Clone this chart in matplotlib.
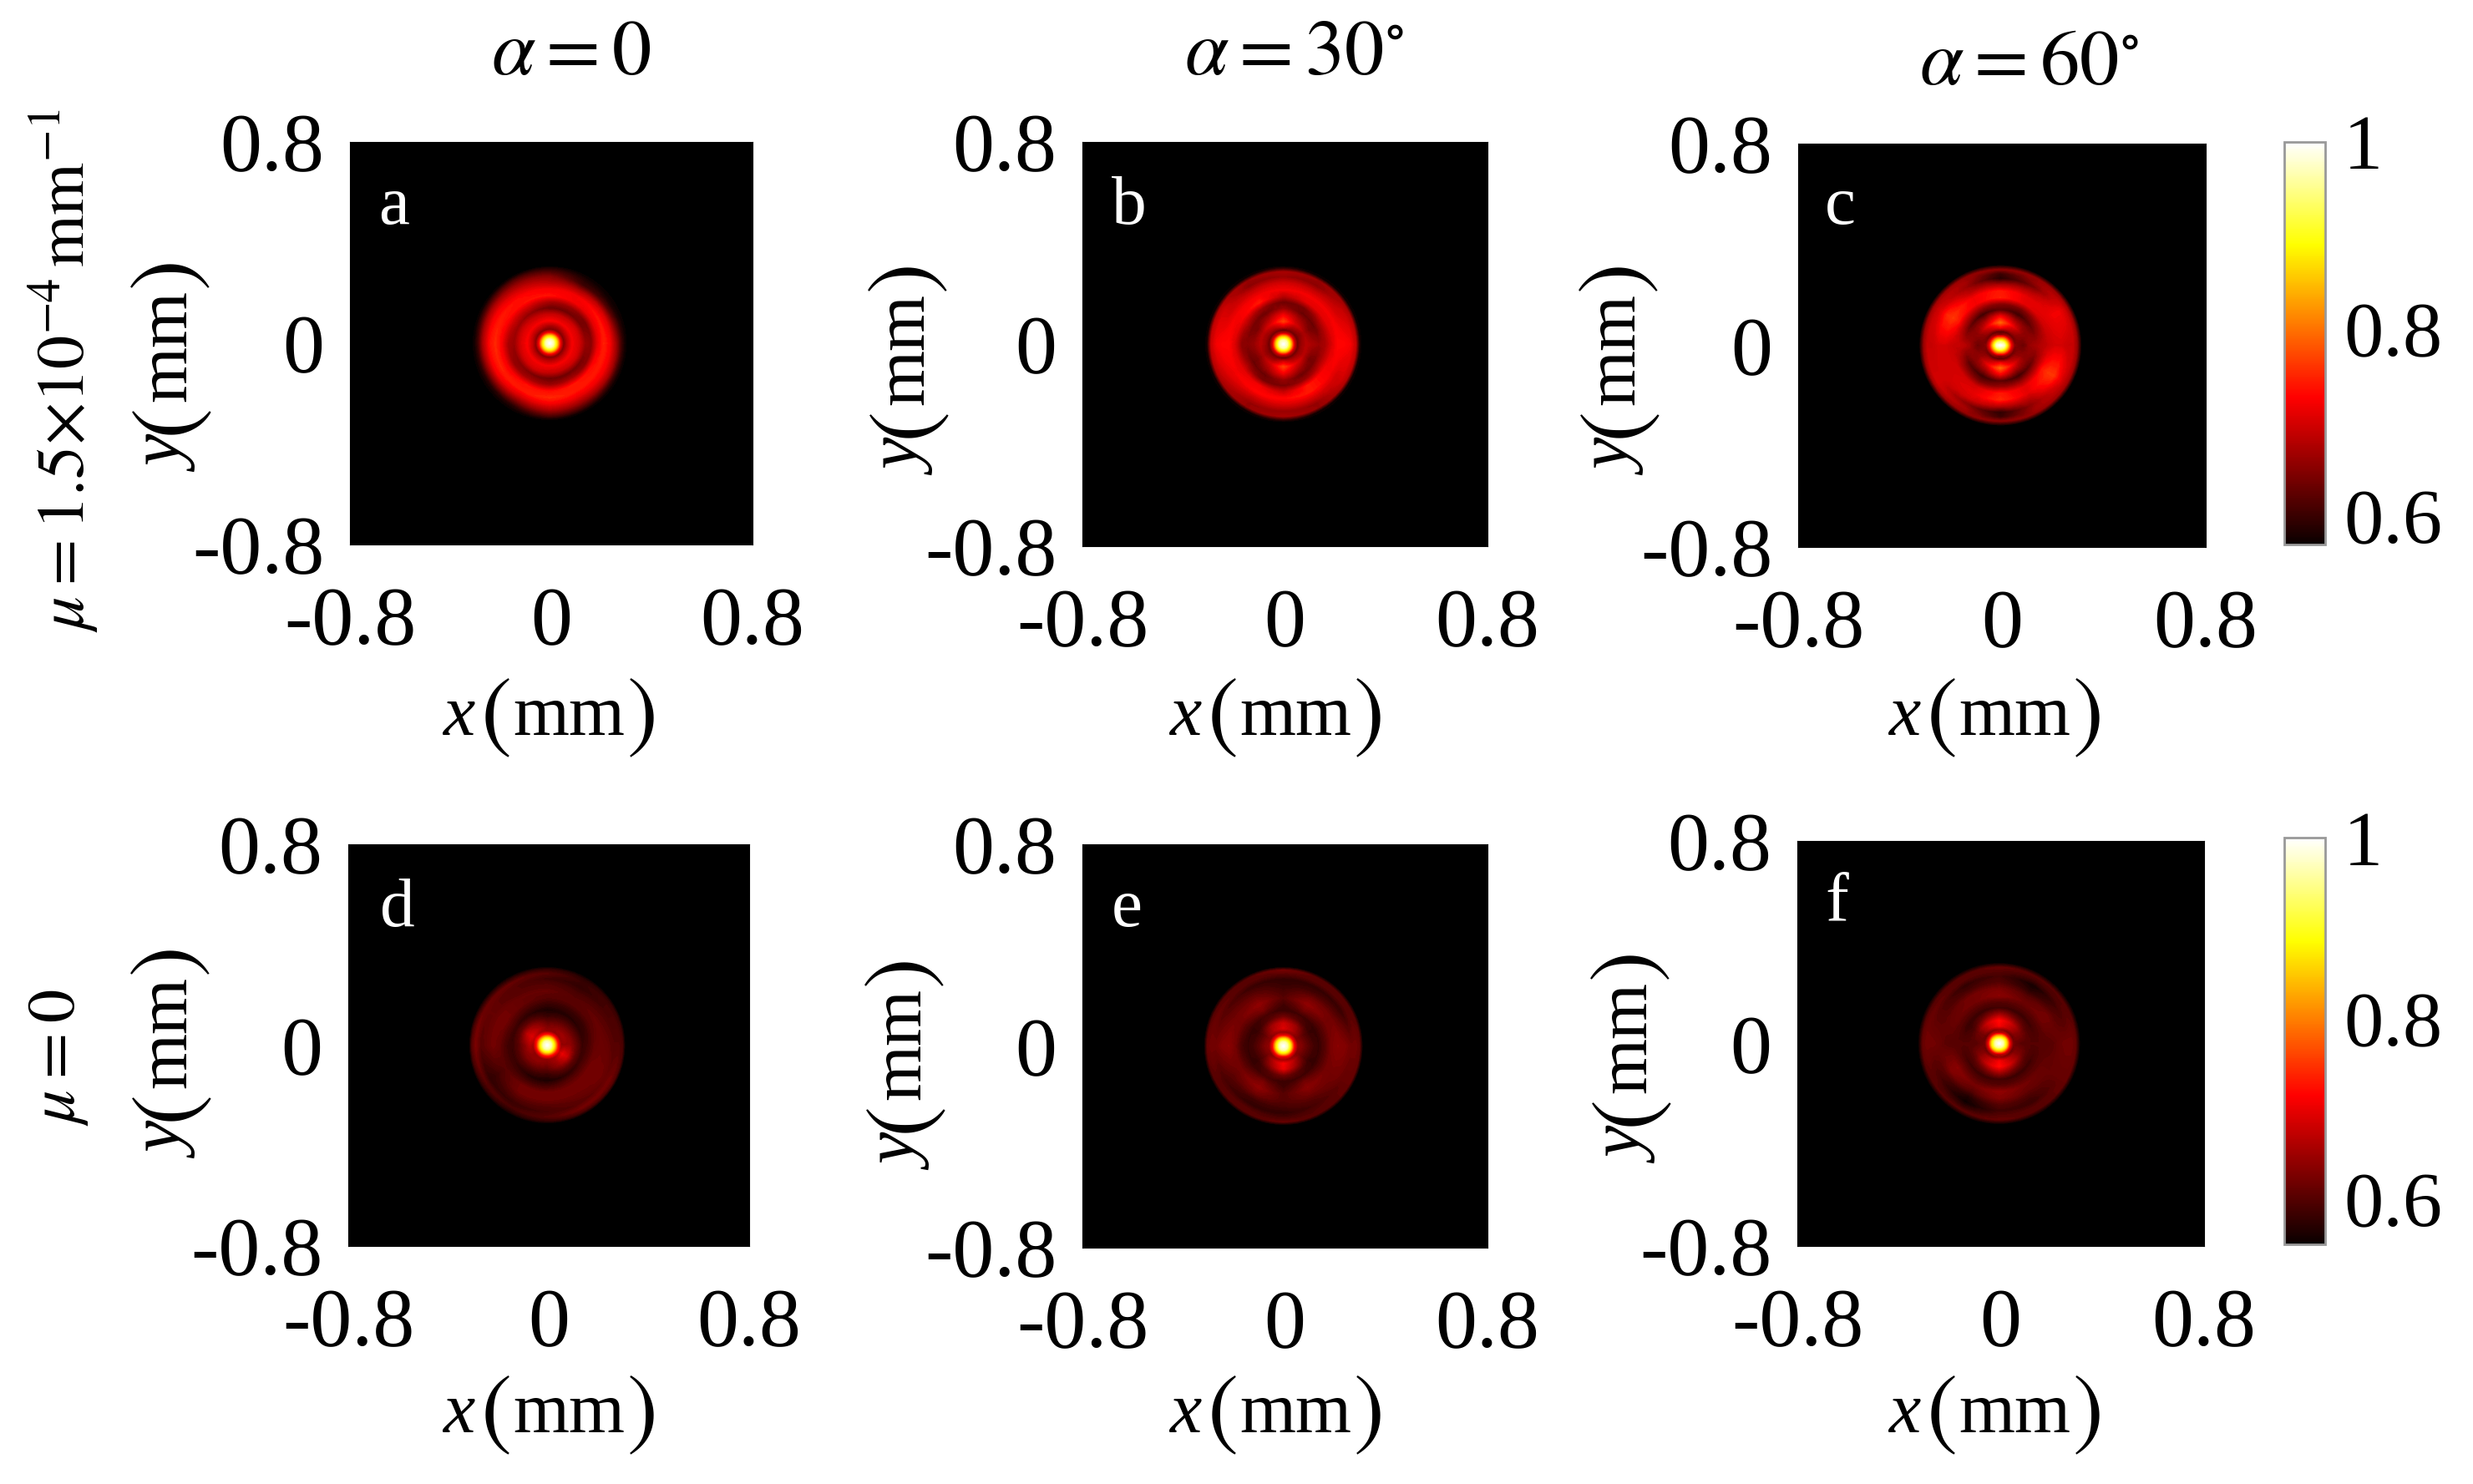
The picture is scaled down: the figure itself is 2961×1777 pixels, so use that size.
import numpy as np
import matplotlib
matplotlib.use("Agg")
import matplotlib.pyplot as plt
from matplotlib.cm import ScalarMappable
from matplotlib.colors import Normalize

W, H = 2961, 1777

# intensity: one row per direction (0, 30, ... 330 deg),
# one column per radius in RADII_MM
ANGLES_DEG = [0, 30, 60, 90, 120, 150, 180, 210, 240, 270, 300, 330]
RADII_MM = [0, .015, .03, .042, .055, .07, .09, .115, .14, .165, .19, .215, .24, .265, .285, .30]

PANEL_A = [
    [1, .96, .85, .72, .64, .68, .72, .70, .66, .65, .71, .745, .72, .66, .60, .57],
    [1, .96, .85, .72, .64, .68, .72, .70, .64, .64, .71, .735, .70, .62, .58, .57],
    [1, .96, .85, .72, .64, .67, .72, .69, .63, .66, .72, .72, .67, .60, .585, .57],
    [1, .96, .85, .72, .64, .67, .725, .69, .63, .67, .735, .72, .68, .65, .61, .58],
    [1, .96, .85, .72, .64, .68, .72, .69, .65, .69, .735, .73, .70, .66, .62, .575],
    [1, .96, .85, .72, .64, .68, .72, .70, .66, .69, .73, .74, .72, .67, .61, .57],
    [1, .96, .85, .72, .65, .69, .725, .70, .66, .67, .72, .75, .73, .67, .60, .57],
    [1, .96, .85, .72, .64, .68, .72, .70, .65, .66, .72, .745, .72, .65, .59, .57],
    [1, .96, .85, .72, .64, .68, .72, .70, .64, .67, .735, .74, .70, .64, .59, .57],
    [1, .96, .85, .72, .64, .68, .72, .69, .63, .66, .73, .75, .72, .67, .62, .575],
    [1, .96, .85, .72, .64, .68, .72, .69, .63, .67, .74, .74, .71, .66, .61, .57],
    [1, .96, .85, .72, .64, .68, .72, .70, .64, .65, .73, .74, .72, .67, .60, .57],
]
PANEL_B = [
    [1, .96, .84, .70, .63, .66, .68, .67, .66, .67, .70, .73, .73, .72, .69, .58],
    [1, .96, .84, .70, .63, .65, .67, .64, .63, .67, .71, .72, .70, .69, .67, .57],
    [1, .96, .84, .70, .63, .66, .70, .67, .63, .64, .71, .72, .69, .65, .66, .57],
    [1, .96, .84, .69, .62, .70, .765, .72, .66, .63, .68, .72, .70, .66, .67, .59],
    [1, .96, .84, .69, .63, .67, .71, .67, .63, .66, .74, .72, .69, .65, .66, .57],
    [1, .96, .84, .70, .63, .66, .68, .64, .64, .68, .72, .72, .70, .70, .68, .57],
    [1, .96, .84, .70, .63, .66, .68, .66, .65, .65, .70, .73, .73, .72, .69, .58],
    [1, .96, .84, .70, .63, .65, .67, .64, .63, .67, .71, .72, .71, .69, .67, .57],
    [1, .96, .84, .70, .63, .66, .70, .67, .63, .64, .72, .73, .69, .66, .66, .57],
    [1, .96, .84, .69, .62, .70, .765, .72, .66, .64, .69, .73, .70, .66, .67, .59],
    [1, .96, .84, .69, .63, .67, .71, .67, .63, .66, .74, .74, .70, .66, .66, .57],
    [1, .96, .84, .70, .63, .66, .68, .64, .64, .68, .72, .72, .70, .70, .68, .57],
]
PANEL_C = [
    [1, .97, .84, .72, .65, .64, .63, .66, .67, .68, .69, .70, .70, .69, .69, .66],
    [1, .95, .82, .70, .63, .65, .66, .65, .63, .66, .70, .71, .72, .72, .70, .67],
    [1, .93, .80, .67, .62, .68, .72, .66, .60, .64, .71, .71, .68, .64, .66, .66],
    [1, .93, .78, .64, .62, .72, .79, .72, .62, .65, .745, .74, .67, .585, .60, .65],
    [1, .93, .80, .67, .62, .68, .72, .66, .60, .66, .72, .72, .68, .66, .67, .66],
    [1, .95, .82, .70, .63, .65, .66, .65, .63, .68, .74, .76, .75, .71, .69, .67],
    [1, .97, .84, .72, .65, .64, .63, .66, .68, .69, .69, .70, .70, .69, .69, .66],
    [1, .95, .82, .70, .63, .65, .66, .65, .62, .66, .70, .70, .70, .70, .70, .67],
    [1, .93, .80, .67, .62, .68, .72, .66, .60, .64, .70, .71, .70, .65, .67, .66],
    [1, .93, .78, .64, .62, .72, .79, .72, .62, .66, .74, .75, .68, .59, .60, .65],
    [1, .93, .80, .67, .62, .68, .72, .66, .60, .66, .71, .71, .68, .66, .67, .66],
    [1, .95, .82, .70, .63, .65, .66, .65, .63, .68, .74, .76, .76, .72, .69, .67],
]
PANEL_D = [
    [1, .96, .85, .72, .64, .64, .64, .61, .58, .59, .61, .615, .61, .60, .60, .59],
    [1, .96, .85, .72, .64, .65, .63, .60, .57, .58, .60, .61, .60, .59, .59, .58],
    [1, .96, .85, .72, .64, .64, .62, .59, .565, .58, .60, .60, .59, .575, .58, .57],
    [1, .96, .85, .72, .64, .63, .61, .58, .56, .58, .60, .61, .60, .585, .60, .58],
    [1, .96, .85, .72, .65, .66, .64, .60, .57, .59, .61, .61, .60, .60, .61, .575],
    [1, .96, .85, .73, .67, .69, .67, .61, .58, .60, .62, .62, .61, .61, .615, .58],
    [1, .96, .85, .72, .65, .66, .63, .60, .58, .59, .61, .62, .61, .60, .625, .60],
    [1, .96, .85, .72, .64, .64, .63, .60, .58, .59, .60, .59, .58, .575, .60, .58],
    [1, .96, .85, .72, .64, .64, .62, .59, .565, .59, .62, .62, .60, .58, .59, .57],
    [1, .96, .85, .72, .64, .63, .61, .58, .56, .59, .62, .62, .60, .59, .60, .58],
    [1, .96, .85, .72, .65, .65, .64, .60, .57, .60, .62, .62, .61, .60, .62, .59],
    [1, .96, .85, .73, .67, .70, .68, .61, .58, .60, .62, .62, .62, .61, .62, .60],
]
PANEL_E = [
    [1, .96, .85, .71, .64, .63, .61, .59, .58, .60, .625, .635, .63, .62, .62, .61],
    [1, .96, .85, .71, .63, .62, .60, .58, .58, .60, .62, .62, .60, .58, .60, .60],
    [1, .96, .85, .71, .64, .66, .65, .60, .585, .62, .64, .62, .59, .575, .60, .60],
    [1, .96, .85, .69, .64, .69, .68, .62, .58, .585, .60, .59, .58, .575, .60, .62],
    [1, .96, .85, .71, .64, .66, .65, .60, .59, .625, .64, .62, .60, .58, .60, .60],
    [1, .96, .85, .71, .63, .62, .60, .58, .58, .60, .62, .62, .61, .60, .61, .60],
    [1, .96, .85, .71, .64, .63, .61, .59, .58, .59, .62, .635, .63, .62, .62, .61],
    [1, .96, .85, .71, .63, .62, .60, .58, .58, .60, .62, .61, .60, .59, .60, .60],
    [1, .96, .85, .71, .64, .67, .65, .60, .59, .625, .64, .62, .585, .575, .60, .60],
    [1, .96, .85, .69, .65, .71, .70, .62, .58, .585, .60, .60, .59, .575, .59, .61],
    [1, .96, .85, .71, .64, .67, .65, .60, .585, .62, .635, .62, .60, .59, .60, .60],
    [1, .96, .85, .71, .63, .62, .60, .58, .58, .60, .62, .62, .62, .61, .61, .61],
]
PANEL_F = [
    [1, .96, .85, .70, .62, .61, .60, .60, .60, .60, .60, .605, .615, .62, .62, .61],
    [1, .96, .85, .69, .61, .63, .63, .60, .585, .60, .62, .62, .60, .59, .60, .60],
    [1, .95, .83, .68, .62, .67, .68, .62, .58, .60, .615, .60, .57, .555, .585, .60],
    [1, .95, .82, .66, .64, .71, .72, .65, .585, .60, .635, .625, .60, .59, .60, .61],
    [1, .95, .83, .68, .62, .67, .68, .62, .58, .60, .62, .62, .59, .575, .60, .60],
    [1, .96, .85, .69, .61, .62, .62, .59, .58, .60, .615, .61, .60, .60, .61, .60],
    [1, .96, .85, .70, .62, .61, .60, .60, .60, .60, .60, .605, .615, .62, .62, .61],
    [1, .96, .85, .69, .61, .63, .63, .60, .585, .61, .635, .63, .60, .59, .60, .60],
    [1, .95, .83, .68, .62, .67, .68, .62, .58, .60, .62, .60, .565, .55, .575, .60],
    [1, .95, .82, .66, .64, .71, .72, .65, .585, .60, .64, .63, .60, .585, .60, .61],
    [1, .95, .83, .68, .62, .67, .68, .62, .58, .60, .62, .61, .59, .58, .60, .60],
    [1, .96, .85, .69, .61, .63, .63, .60, .585, .60, .61, .61, .61, .61, .61, .61],
]

DISK_RADIUS = [.292, .295, .305, .298, .30, .305]
TICK_VALUES = [-0.8, 0, 0.8]
TICK_LABELS = ["-0.8", "0", "0.8"]
CBAR_TICKS = [0.6, 0.8, 1]
CBAR_LABELS = ["0.6", "0.8", "1"]
LETTERS = ["a", "b", "c", "d", "e", "f"]
TITLES = [r"$\alpha=0$", r"$\alpha=30^{\circ}$", r"$\alpha=60^{\circ}$"]
ROW_LABELS = [r"$\mu=1.5{\times}10^{-4}\,\mathrm{mm}^{-1}$", r"$\mu=0$"]
VMIN_TOP, VMIN_BOTTOM, VMAX = 0.57, 0.55, 1.0

# axes boxes in pixels: left, right, top, bottom
BOXES = [
    (419, 901, 170, 652), (1296, 1781, 170, 654), (2153, 2641, 172, 655),
    (417, 897, 1011, 1492), (1296, 1781, 1011, 1494), (2152, 2639, 1007, 1492),
]
CBAR_BOXES = [(2735, 2784, 170, 652), (2735, 2784, 1003, 1490)]
XLABEL_XY = [(655, 880), (1525, 880), (2386, 880), (655, 1715), (1525, 1715), (2386, 1715)]
YLABEL_XY = [(222, 440), (1105, 444), (1956, 444), (222, 1262), (1101, 1276), (1970, 1268)]
TITLE_XY = [(684, 66), (1549, 66), (2429, 79)]
ROW_XY = [(76, 444), (70, 1266)]
LETTER_XY = [(472, 248), (1352, 248), (2203, 248), (476, 1089), (1349, 1089), (2199, 1083)]
# where the pieces of "x(mm)" sit along the label, pixels from its middle
PIECE_OFFSETS = [-106, -61, 26, 114]
PIECE_TEXTS = ["(", "mm", ")"]

plt.rcParams["font.family"] = ["Liberation Serif", "DejaVu Serif"]
plt.rcParams["mathtext.fontset"] = "stix"
FS = 72
UNIT_FS = 62
PAREN_FS = 80


def add_axes_px(fig, box):
    left, right, top, bottom = box
    return fig.add_axes([left / W, 1 - bottom / H, (right - left) / W, (bottom - top) / H])


def text_px(fig, xy, s, **kw):
    kw.setdefault("ha", "center")
    kw.setdefault("va", "center")
    fig.text(xy[0] / W, 1 - xy[1] / H, s, **kw)


def unit_label(fig, xy, var, vertical):
    # variable and unit set by hand, the brackets are much taller than the letters
    rot = 90 if vertical else 0
    pieces = [var] + PIECE_TEXTS
    for off, piece in zip(PIECE_OFFSETS, pieces):
        paren = piece in "()"
        drop = 7 if paren else 0
        pos = (xy[0] + drop, xy[1] - off) if vertical else (xy[0] + off, xy[1] + drop)
        kw = {"family": "STIXGeneral"} if paren else {}
        text_px(fig, pos, piece, fontsize=PAREN_FS if paren else UNIT_FS,
                fontstyle="italic" if piece == var else "normal",
                rotation=rot, rotation_mode="anchor", va="baseline", **kw)


def draw_panel(ax, table, radius, vmin):
    # centre point once, then the rings, then a black ring just outside the disk.
    # the readings go round each ring on finer spokes so the rings stay round
    table = np.array(table)
    fine = np.arange(0, 360, 5)
    th = np.deg2rad(fine)
    rr = np.array(RADII_MM[1:] + [radius + .012])
    rings = [np.interp(fine, ANGLES_DEG, table[:, j], period=360) for j in range(1, table.shape[1])]
    rings.append(np.full(len(fine), vmin))
    x = np.concatenate([[0], np.outer(rr, np.cos(th)).ravel()]) - 0.006
    y = np.concatenate([[0], np.outer(rr, np.sin(th)).ravel()])
    z = np.concatenate([[table[0, 0]], np.concatenate(rings)])
    ax.tricontourf(x, y, z, levels=np.linspace(vmin, VMAX, 129), cmap="hot",
                   vmin=vmin, vmax=VMAX, extend="both")
    ax.set_facecolor("black")
    ax.set_xlim(-0.8, 0.8)
    ax.set_ylim(-0.8, 0.8)
    ax.set_xticks(TICK_VALUES, TICK_LABELS)
    ax.set_yticks(TICK_VALUES, TICK_LABELS)
    ax.tick_params(direction="in", length=0, labelsize=FS)
    ax.tick_params(axis="x", pad=36)
    ax.tick_params(axis="y", pad=22)
    for s in ax.spines.values():
        s.set_linewidth(0.8)


fig = plt.figure(figsize=(W / 100, H / 100), dpi=100)

panels = [PANEL_A, PANEL_B, PANEL_C, PANEL_D, PANEL_E, PANEL_F]
for i, table in enumerate(panels):
    ax = add_axes_px(fig, BOXES[i])
    draw_panel(ax, table, DISK_RADIUS[i], VMIN_TOP if i < 3 else VMIN_BOTTOM)
    text_px(fig, LETTER_XY[i], LETTERS[i], color="white", fontsize=60)
    unit_label(fig, XLABEL_XY[i], "x", False)
    unit_label(fig, YLABEL_XY[i], "y", True)

for i, xy in enumerate(TITLE_XY):
    text_px(fig, xy, TITLES[i], fontsize=68)
for i, xy in enumerate(ROW_XY):
    text_px(fig, xy, ROW_LABELS[i], fontsize=58, rotation=90)

for box, vmin in zip(CBAR_BOXES, [VMIN_TOP, VMIN_BOTTOM]):
    cax = add_axes_px(fig, box)
    cb = fig.colorbar(ScalarMappable(Normalize(vmin, VMAX), "hot"), cax=cax)
    cb.set_ticks(CBAR_TICKS, labels=CBAR_LABELS)
    cb.ax.tick_params(length=0, labelsize=68, pad=16)
    cb.outline.set_edgecolor("#999999")
    cb.outline.set_linewidth(2)

fig.savefig("out.png", dpi=100)
